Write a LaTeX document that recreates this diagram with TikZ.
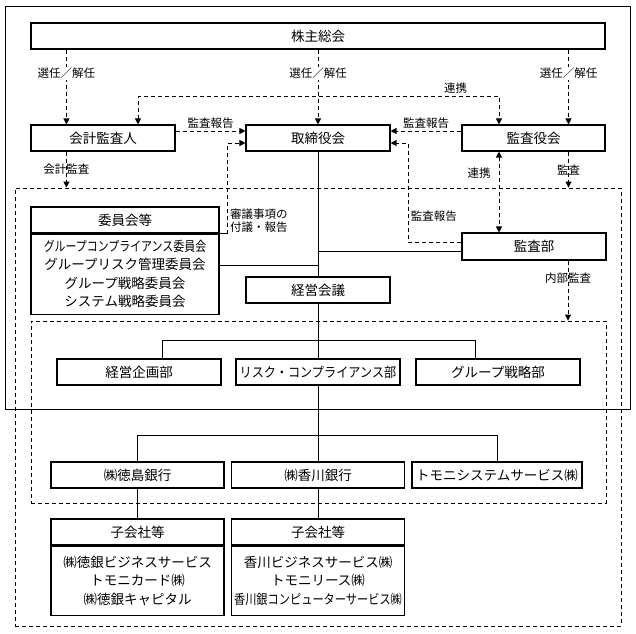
\documentclass[tikz,border=0pt]{standalone}
\usepackage{fontspec}
\setmainfont{Noto Sans CJK JP}
\usetikzlibrary{arrows.meta}

\begin{document}
\begin{tikzpicture}[x=1pt,y=-1pt,
  box/.style={draw,line width=1.1pt,inner sep=0pt,minimum height=26pt,
    font=\fontsize{13.5}{18.5}\selectfont,align=center},
  grpframe/.style={draw,inner sep=0pt,line width=0.9pt},
  lbl/.style={inner sep=1pt,font=\fontsize{11.5}{13.5}\selectfont},
  dline/.style={line width=0.9pt,dash pattern=on 4pt off 3pt},
  arr/.style={-{Triangle[length=6pt,width=6pt]}},
  arrs/.style={{Triangle[length=6pt,width=6pt]}-{Triangle[length=6pt,width=6pt]}}]
\useasboundingbox (0,0) rectangle (636,633);

%% frames
\node[grpframe,minimum width=625pt,minimum height=403pt] (hd) at (317.5,207.5) {};
\node[grpframe,dline,minimum width=606pt,minimum height=438pt] (group) at (318,407) {};
\node[grpframe,dline,minimum width=575pt,minimum height=182pt] (inner) at (318.5,412) {};

%% top level
\node[box,minimum width=574pt] (soukai) at (318,36) {株主総会};
\node[box,minimum width=144pt] (kaikei) at (103,138) {会計監査人};
\node[box,minimum width=144pt] (torishimari) at (318,138) {取締役会};
\node[box,minimum width=143pt] (kansayaku) at (533.5,138) {監査役会};

%% committees
\node[box,minimum width=188pt] (iinkaiHead) at (125,220) {委員会等};
\node[box,minimum width=188pt,minimum height=80pt,anchor=north] (iinkaiBody) at (iinkaiHead.south)
  {\scalebox{0.81}[1]{グループコンプライアンス委員会}\\グループリスク管理委員会\\グループ戦略委員会\\システム戦略委員会};

\node[box,minimum width=144pt,minimum height=27pt] (kansabu) at (534,246.5) {監査部};
\node[box,minimum width=144pt] (keiei) at (318,290) {経営会議};

%% departments
\node[box,minimum width=164pt] (kikaku) at (139,372) {経営企画部};
\node[box,minimum width=164pt] (risk) at (318,372) {\scalebox{0.9}[1]{リスク・コンプライアンス部}};
\node[box,minimum width=164pt] (senryaku) at (498,372) {グループ戦略部};

%% banks
\node[box,minimum width=173pt] (tokushima) at (137.5,475) {㈱徳島銀行};
\node[box,minimum width=173pt] (kagawa) at (318,475) {㈱香川銀行};
\node[box,minimum width=170pt] (tomoni) at (497,475) {トモニシステムサービス㈱};

%% subsidiaries
\node[box,minimum width=173pt] (tokuHead) at (137.5,532) {子会社等};
\node[box,minimum width=173pt,minimum height=69pt,anchor=north] (tokuBody) at (tokuHead.south)
  {㈱徳銀ビジネスサービス\\トモニカード㈱\\㈱徳銀キャピタル};
\node[box,minimum width=173pt] (kagaHead) at (318,532) {子会社等};
\node[box,minimum width=173pt,minimum height=69pt,anchor=north] (kagaBody) at (kagaHead.south)
  {香川ビジネスサービス㈱\\トモニリース㈱\\\scalebox{0.83}[1]{香川銀コンピューターサービス㈱}};

%% solid lines
\draw[line width=0.9pt] (torishimari) -- (keiei);
\draw[line width=0.9pt] (keiei) -- (risk);
\draw[line width=0.9pt] ([xshift=23pt]kikaku.north) -- ++(0,-18) -| ([xshift=-23pt]senryaku.north);
\draw[line width=0.9pt] ([yshift=9pt]iinkaiBody.east) -- ([yshift=9pt]iinkaiBody.east -| torishimari.south);
\draw[line width=0.9pt] ([yshift=-4.5pt]kansabu.west) -- ([yshift=-4.5pt]kansabu.west -| torishimari.south);
\draw[line width=0.9pt] (risk) -- (kagawa);
\draw[line width=0.9pt] (tokushima.north) -- ++(0,-26) -| (tomoni.north);
\draw[line width=0.9pt] (tokushima) -- (tokuHead);
\draw[line width=0.9pt] (kagawa) -- (kagaHead);

%% appointment
\draw[dline,arr] ([xshift=36pt]kaikei.north west |- soukai.south) -- node[lbl,fill=white,pos=0.32]{選任／解任} ([xshift=36pt]kaikei.north west);
\draw[dline,arr] (soukai.south -| torishimari.north) -- node[lbl,fill=white,pos=0.32]{選任／解任} (torishimari.north);
\draw[dline,arr] ([xshift=35pt]kansayaku.north |- soukai.south) -- node[lbl,fill=white,pos=0.32]{選任／解任} ([xshift=35pt]kansayaku.north);

%% cooperation
\draw[dline,arrs] ([xshift=35pt]kaikei.north) -- ++(0,-28) -| node[lbl,pos=0.44,above=2pt]{連携} ([xshift=-34.5pt]kansayaku.north);
\draw[dline,arrs] ([xshift=-34.5pt]kansayaku.south) -- node[lbl,left=7pt,pos=0.27]{連携} ([xshift=-34.5pt]kansayaku.south |- kansabu.north);

%% audit reports
\draw[dline,arr] ([yshift=7pt]kaikei.east) -- node[lbl,above=1pt]{監査報告} ([yshift=7pt]torishimari.west);
\draw[dline,arr] ([yshift=7pt]kansayaku.west) -- node[lbl,above=1pt]{監査報告} ([yshift=7pt]torishimari.east);
\draw[dline,arr] ([yshift=4.5pt]kansabu.west) -- ++(-53,0) |- node[lbl,pos=0.13,anchor=west,xshift=1pt]{監査報告} ([yshift=-5pt]torishimari.east);
\draw[line width=0.9pt] (iinkaiHead.south east) -- ++(8,0) coordinate (shingi);
\draw[dline,arr] (shingi) |- node[lbl,pos=0,anchor=south west,align=left,xshift=1pt,font=\fontsize{11.5}{13}\selectfont]{審議事項の\\付議・報告} ([yshift=-5pt]torishimari.west);

%% audits
\draw[dline,arr] ([xshift=36pt]kaikei.south west) -- node[lbl]{会計監査} ([xshift=36pt]kaikei.south west |- group.north);
\draw[dline,arr] ([xshift=35pt]kansayaku.south) -- node[lbl]{監査} ([xshift=35pt]kansayaku.south |- group.north);
\draw[dline,arr] ([xshift=34pt]kansabu.south) -- node[lbl,pos=0.3]{内部監査} ([xshift=34pt]kansabu.south |- inner.north);
\end{tikzpicture}
\end{document}
